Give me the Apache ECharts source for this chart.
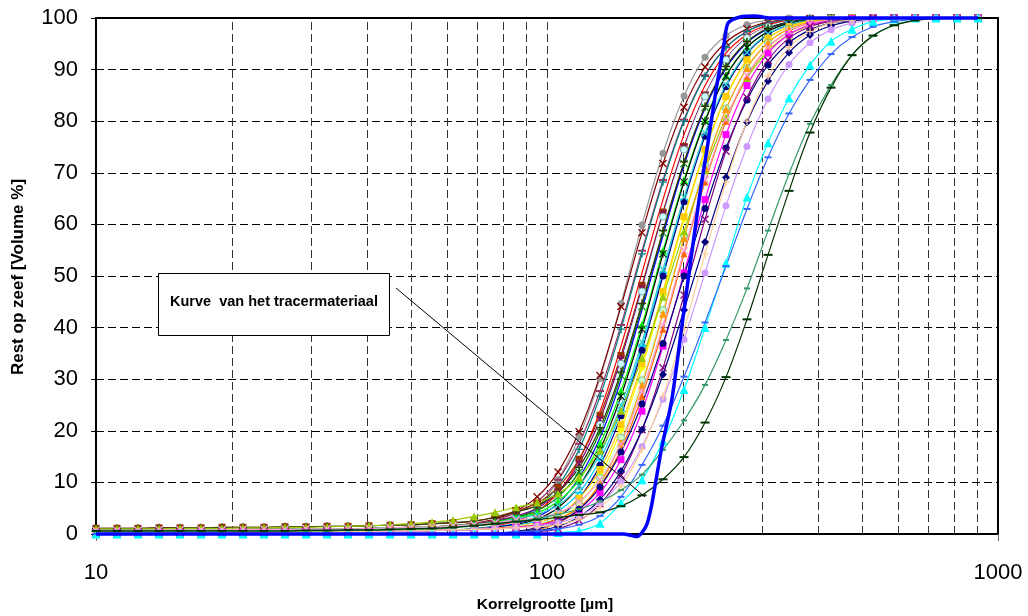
<!DOCTYPE html>
<html><head><meta charset="utf-8">
<script src="https://cdn.jsdelivr.net/npm/echarts@6/dist/echarts.min.js"></script>
<style>html,body{margin:0;padding:0;background:#fff}#c{width:1028px;height:616px}</style>
</head><body><div id="c"></div>
<script>
// Grain sizes (µm) of the measured channels
const sizes = [10.0,11.13,12.39,13.80,15.36,17.10,19.03,21.18,23.58,26.25,29.22,32.53,36.22,40.31,44.88,49.96,55.61,61.91,68.92,76.72,85.41,95.09,105.8,117.8,131.1,145.9,162.4,180.8,201.3,224.1,249.4,277.6,309.1,344.1,383.0,426.4,474.6,528.4,588.2,654.7,728.8,811.3,903.1];

// Rest op zeef [Volume %] per sample
const s01 = [0.7,0.7,0.7,0.8,0.8,0.8,0.8,0.9,0.9,0.9,1.0,1.0,1.0,1.1,1.2,1.3,1.4,1.6,1.9,2.3,3.2,5.2,10.5,18.8,30.2,44.6,59.9,73.8,84.9,92.4,96.6,98.7,99.6,100,100,100,100,100,100,100,100,100,100];
const s02 = [0.7,0.7,0.7,0.8,0.8,0.8,0.8,0.9,0.9,0.9,1.0,1.0,1.0,1.1,1.2,1.3,1.4,1.6,2.1,2.9,4.5,7.2,12.0,19.8,30.7,44.1,58.4,71.8,82.7,90.5,95.3,97.9,99.2,99.7,99.9,100,100,100,100,100,100,100,100];
const s03 = [0.7,0.7,0.7,0.8,0.8,0.8,0.8,0.9,0.9,0.9,1.0,1.0,1.0,1.1,1.2,1.3,1.4,1.6,2.0,2.7,4.1,6.3,10.5,17.5,27.7,40.5,54.9,68.6,80.3,88.9,94.3,97.4,99.0,99.6,99.9,100,100,100,100,100,100,100,100];
const s04 = [0.3,0.3,0.3,0.3,0.3,0.4,0.4,0.4,0.4,0.4,0.5,0.5,0.5,0.5,0.6,0.6,0.7,0.8,1.1,1.6,2.9,5.1,9.3,16.4,26.7,39.7,54.3,68.2,80.0,88.7,94.3,97.4,99.0,99.6,99.9,100,100,100,100,100,100,100,100];
const s05 = [0.3,0.3,0.3,0.3,0.3,0.4,0.4,0.4,0.4,0.4,0.5,0.5,0.5,0.5,0.6,0.6,0.7,0.8,0.9,1.5,2.5,4.4,8.0,14.4,23.8,36.4,50.6,64.8,77.4,86.9,93.2,96.8,98.7,99.5,99.9,100,100,100,100,100,100,100,100];
const s06 = [1.1,1.1,1.1,1.2,1.2,1.2,1.3,1.3,1.3,1.4,1.4,1.5,1.5,1.6,1.7,1.8,2.0,2.2,2.5,3.3,4.5,6.0,9.1,14.5,23.0,34.6,48.2,62.4,75.1,85.1,92.1,96.2,98.4,99.4,99.8,100,100,100,100,100,100,100,100];
const s07 = [0.7,0.7,0.7,0.8,0.8,0.8,0.8,0.9,0.9,0.9,1.0,1.0,1.0,1.1,1.2,1.3,1.4,1.6,1.8,2.5,3.5,5.0,8.1,13.6,22.2,33.9,47.6,62.0,74.9,85.0,92.0,96.2,98.3,99.4,99.8,100,100,100,100,100,100,100,100];
const s08 = [0.3,0.3,0.3,0.3,0.3,0.4,0.4,0.4,0.4,0.4,0.5,0.5,0.5,0.5,0.6,0.6,0.7,0.8,0.9,1.4,2.2,3.8,6.9,12.5,21.2,33.0,47.0,61.5,74.5,84.8,91.9,96.1,98.3,99.4,99.8,100,100,100,100,100,100,100,100];
const s09 = [0.7,0.7,0.7,0.8,0.8,0.8,0.8,0.9,0.9,0.9,1.0,1.0,1.0,1.1,1.2,1.3,1.4,1.6,1.8,2.4,3.3,4.5,7.2,12.0,19.8,30.7,44.1,58.4,71.8,82.7,90.5,95.3,97.9,99.2,99.7,99.9,100,100,100,100,100,100,100];
const s10 = [0.3,0.3,0.3,0.3,0.3,0.4,0.4,0.4,0.4,0.4,0.5,0.5,0.5,0.5,0.6,0.6,0.7,0.8,0.9,1.3,2.0,3.3,5.9,10.9,18.7,29.8,43.4,57.8,71.5,82.5,90.3,95.2,97.9,99.2,99.7,99.9,100,100,100,100,100,100,100];
const s11 = [1.1,1.1,1.1,1.2,1.2,1.2,1.3,1.3,1.3,1.4,1.4,1.5,1.5,1.6,1.7,1.8,2.0,2.2,2.5,3.2,4.3,5.5,8.1,12.9,20.6,31.4,44.7,58.8,72.1,82.9,90.6,95.4,98.0,99.2,99.7,99.9,100,100,100,100,100,100,100];
const s12 = [0.7,0.7,0.7,0.8,0.8,0.8,0.8,0.9,0.9,0.9,1.0,1.0,1.0,1.1,1.2,1.3,1.4,1.6,1.8,2.3,3.1,4.1,6.3,10.5,17.5,27.7,40.5,54.9,68.6,80.3,88.9,94.3,97.4,99.0,99.6,99.9,100,100,100,100,100,100,100];
const s13 = [0.3,0.3,0.3,0.3,0.3,0.4,0.4,0.4,0.4,0.4,0.5,0.5,0.5,0.5,0.6,0.6,0.7,0.8,0.9,1.2,1.8,2.9,5.1,9.3,16.4,26.7,39.7,54.3,68.2,80.0,88.7,94.3,97.4,99.0,99.6,99.9,100,100,100,100,100,100,100];
const s14 = [0.3,0.3,0.3,0.3,0.3,0.4,0.4,0.4,0.4,0.4,0.5,0.5,0.5,0.5,0.6,0.6,0.7,0.8,0.9,1.1,1.7,2.5,4.4,8.0,14.4,23.8,36.4,50.6,64.8,77.4,86.9,93.2,96.8,98.7,99.5,99.9,100,100,100,100,100,100,100];
const s15 = [0,0,0,0,0,0,0,0,0,0,0,0,0,0,0,0,0,0,0,0.1,0.5,1.3,3.2,6.9,13.3,22.9,35.6,50.0,64.4,77.1,86.7,93.1,96.8,98.7,99.5,99.9,100,100,100,100,100,100,100];
const s16 = [0.7,0.7,0.7,0.8,0.8,0.8,0.8,0.9,0.9,0.9,1.0,1.0,1.0,1.1,1.2,1.3,1.4,1.6,1.8,2.2,3.0,3.8,5.6,9.3,15.5,24.9,37.2,51.3,65.3,77.7,87.1,93.3,96.9,98.7,99.5,99.9,100,100,100,100,100,100,100];
const s17 = [0,0,0,0,0,0,0,0,0,0,0,0,0,0,0,0,0,0,0,0.1,0.4,1.0,2.6,5.8,11.4,20.2,32.2,46.3,61.0,74.2,84.6,91.8,96.1,98.3,99.4,99.8,100,100,100,100,100,100,100];
const s18 = [0.3,0.3,0.3,0.3,0.3,0.4,0.4,0.4,0.4,0.4,0.5,0.5,0.5,0.5,0.6,0.6,0.7,0.8,0.9,1.1,1.6,2.2,3.7,6.9,12.5,21.2,33.0,47.0,61.5,74.5,84.8,91.9,96.1,98.3,99.4,99.8,100,100,100,100,100,100,100];
const s19 = [0.3,0.3,0.3,0.3,0.3,0.4,0.4,0.4,0.4,0.4,0.5,0.5,0.5,0.5,0.6,0.6,0.7,0.8,0.9,1.1,1.5,2.0,3.3,5.9,10.9,18.7,29.8,43.4,57.8,71.5,82.5,90.3,95.2,97.9,99.2,99.7,99.9,100,100,100,100,100,100];
const s20 = [1.0,1.0,1.0,1.0,1.1,1.1,1.1,1.2,1.2,1.3,1.3,1.4,1.5,1.6,1.8,2.0,2.3,2.7,3.4,4.2,5.2,6.1,7.8,11.0,16.2,23.9,34.1,46.0,58.6,70.5,80.7,88.3,93.6,96.8,98.5,99.4,99.8,100,100,100,100,100,100];
const s21 = [0,0,0,0,0,0,0,0,0,0,0,0,0,0,0,0,0,0,0,0.1,0.3,0.8,2.1,4.8,9.8,17.7,28.9,42.7,57.3,71.1,82.3,90.3,95.2,97.9,99.2,99.7,99.9,100,100,100,100,100,100];
const s22 = [0.3,0.3,0.3,0.3,0.3,0.4,0.4,0.4,0.4,0.4,0.5,0.5,0.5,0.5,0.6,0.6,0.7,0.8,0.9,1.1,1.4,1.8,2.9,5.1,9.3,16.4,26.7,39.7,54.3,68.2,80.0,88.7,94.3,97.4,99.0,99.6,99.9,100,100,100,100,100,100];
const s23 = [0.3,0.3,0.3,0.3,0.3,0.4,0.4,0.4,0.4,0.4,0.5,0.5,0.5,0.5,0.6,0.6,0.7,0.8,0.9,1.0,1.3,1.7,2.5,4.4,8.0,14.4,23.8,36.4,50.6,64.8,77.4,86.9,93.2,96.8,98.7,99.5,99.9,100,100,100,100,100,100];
const s24 = [0,0,0,0,0,0,0,0,0,0,0,0,0,0,0,0,0,0,0,0,0.4,1.0,2.3,4.8,9.1,15.9,25.2,36.9,50.0,63.1,74.8,84.1,90.9,95.2,97.7,99.0,99.6,99.9,100,100,100,100,100];
const s25 = [0.7,0.7,0.7,0.8,0.8,0.8,0.8,0.9,0.9,0.9,1.0,1.0,1.0,1.1,1.2,1.3,1.4,1.6,1.8,2.2,2.7,3.1,4.1,6.3,10.5,17.5,27.7,40.5,54.9,68.6,80.3,88.9,94.3,97.4,99.0,99.6,99.9,100,100,100,100,100,100];
const s26 = [0,0,0,0,0,0,0,0,0,0,0,0,0,0,0,0,0,0,0,0,0.1,0.4,1.0,2.6,5.8,11.4,20.2,32.2,46.3,61.0,74.2,84.6,91.8,96.1,98.3,99.4,99.8,100,100,100,100,100,100];
const s27 = [0,0,0,0,0,0,0,0,0,0,0,0,0,0,0,0,0,0,0,0,0.2,0.6,1.5,3.3,6.7,12.2,20.2,30.9,43.4,56.6,69.1,79.8,87.8,93.3,96.7,98.5,99.4,99.8,100,100,100,100,100];
const s28 = [0.3,0.3,0.3,0.3,0.3,0.4,0.4,0.4,0.4,0.4,0.5,0.5,0.5,0.5,0.6,0.6,0.7,0.8,0.9,1.0,1.2,1.6,2.2,3.5,5.9,10.2,16.9,26.1,37.7,50.6,63.6,75.1,84.3,91.0,95.2,97.7,99.0,99.6,99.9,100,100,100,100];
const s29 = [0.3,0.3,0.3,0.3,0.3,0.4,0.4,0.4,0.4,0.4,0.5,0.5,0.5,0.5,0.6,0.6,0.7,0.8,0.9,1.0,1.2,1.4,1.8,2.9,5.1,9.3,16.4,26.7,39.7,54.3,68.2,80.0,88.7,94.3,97.4,99.0,99.6,99.9,100,100,100,100,100];
const s30 = [0,0,0,0,0,0,0,0,0,0,0,0,0,0,0,0,0,0,0,0,0,0,0.3,0.6,2.1,6.0,10.5,18.0,28.0,40.0,52.5,65.3,75.8,84.5,90.9,95.5,97.8,99.3,99.8,100,100,100,100];
const s31 = [0,0,0,0,0,0,0,0,0,0,0,0,0,0,0,0,0,0,0,0.2,0.4,0.6,1.0,1.8,3.5,7.2,13.4,21.0,30.5,41.0,51.9,63.0,73.0,81.5,88.0,93.0,96.3,98.3,99.3,99.8,100,100,100];
const s32 = [0.5,0.5,0.5,0.5,0.5,0.5,0.5,0.5,0.5,0.5,0.6,0.6,0.7,0.7,0.8,0.9,1.0,1.2,1.5,1.9,2.4,3.0,3.8,4.8,6.3,8.5,11.5,16.3,22.0,28.9,37.6,47.6,58.8,69.8,79.5,87.0,92.8,96.5,98.6,99.6,100,100,100];
const s33 = [0.6,0.6,0.6,0.6,0.6,0.6,0.6,0.6,0.6,0.6,0.7,0.7,0.8,0.8,0.9,1.0,1.1,1.3,1.6,2.0,2.4,2.8,3.2,3.7,4.2,5.4,7.5,10.6,14.9,21.6,30.4,41.6,54.1,66.5,77.8,86.5,92.8,96.6,98.6,99.5,99.9,100,100];

// Tracer material curve
const tracerSizes = [10,50,100,130,147.4,158.3,165.8,170.1,174.5,179.9,189.1,198.9,217.3,227.5,237.0,241.9,246.9,252.0,268.0,289.2,312.2,400,903];
const tracerValues = [0,0,0,0,0,-0.5,1.5,5.0,10.5,17.0,26.0,40.0,64.7,75.8,86.0,90.5,95.0,99.0,100.2,100.4,100,100,100];

// Minor/major vertical grid lines of the log axis
const xGridValues = [20,30,40,50,60,70,80,90,100,200,300,400,500,600,700,800,900];

const xTitle = 'Korrelgrootte [µm]';
const yTitle = 'Rest op zeef [Volume %]';
const noteText = 'Kurve  van het tracermateriaal';
const notePoint = [164.9, 7.2];

const curves = [s01,s02,s03,s04,s05,s06,s07,s08,s09,s10,s11,s12,s13,s14,s15,s16,s17,s18,s19,s20,s21,s22,s23,s24,s25,s26,s27,s28,s29,s30,s31,s32,s33];
const styles = [
 ['#969696','circle',7],['#800000','x',8],['#993366','dash',8],['#008080','plus',8],
 ['#FF0000','none',0],['#993300','rect',7],['#800080','star',8],['#CCFFFF','circle',7,'#5f9ea0'],
 ['#008000','star',8],['#0000FF','none',0],['#333300','plus',8],['#00FF00','triangle',8],
 ['#000000','star',8],['#00CCFF','dash',8],['#000080','circle',7],['#33CCCC','x',8],
 ['#FFFF00','diamond',8],['#FFCC00','rect',7],['#CCFFCC','circle',7,'#66aa66'],['#99CC00','triangle',8],
 ['#FF9900','triangle',8],['#FF6600','triangle',7],['#FF00FF','rect',7],['#000080','circle',7],
 ['#FF99CC','x',8],['#800080','x',8],['#000080','diamond',8],['#CC99FF','circle',7],
 ['#FFCC99','plus',8],['#00FFFF','triangle',9],['#3366FF','dash',7],['#339966','dash',6],['#003300','dash',9]
];
const SYM = {
 x: 'path://M0,1.2L1.2,0L5,3.8L8.8,0L10,1.2L6.2,5L10,8.8L8.8,10L5,6.2L1.2,10L0,8.8L3.8,5Z',
 plus: 'path://M4.2,0H5.8V4.2H10V5.8H5.8V10H4.2V5.8H0V4.2H4.2Z',
 star: 'path://M4.4,0H5.6V10H4.4Z M0,0.9L0.9,0L10,9.1L9.1,10Z M9.1,0L10,0.9L0.9,10L0,9.1Z',
 dash: 'path://M0,0H10V10H0Z'
};

const FONT = '"Liberation Sans", Arial, sans-serif';
const chart = echarts.init(document.getElementById('c'), null, {renderer: 'canvas'});

const series = [];
series.push({
  type: 'line', data: [], silent: true, z: 1,
  markLine: {
    silent: true, symbol: 'none', z: 1, animation: false,
    label: {show: false},
    lineStyle: {type: [8, 4], color: '#333', width: 1},
    data: xGridValues.map(v => ({xAxis: v}))
  }
});
curves.forEach((vals, k) => {
  const st = styles[k];
  const sym = st[1];
  let symbol = sym, size = st[2];
  if (SYM[sym]) symbol = SYM[sym];
  if (sym === 'dash') size = [st[2], 2];
  series.push({
    type: 'line',
    data: sizes.map((x, i) => [x, vals[i]]),
    smooth: 0.35,
    symbol: symbol, symbolSize: size,
    showSymbol: sym !== 'none',
    lineStyle: {width: 1.2, color: st[0]},
    itemStyle: {color: st[0], borderColor: st[3] || st[0], borderWidth: st[3] ? 0.8 : 0},
    z: 2
  });
});
series.push({
  type: 'line',
  data: tracerSizes.map((x, i) => [x, tracerValues[i]]),
  smooth: 0.25, showSymbol: false, clip: false,
  lineStyle: {width: 3.5, color: '#0000FF'},
  itemStyle: {color: '#0000FF'},
  z: 3
});

chart.setOption({
  animation: false,
  backgroundColor: '#fff',
  grid: {left: 96, right: 30, top: 18, bottom: 82, show: true, borderColor: '#000', borderWidth: 2, backgroundColor: 'transparent'},
  xAxis: {
    type: 'log', logBase: 10, min: 10, max: 1000,
    axisLine: {show: true, onZero: false, lineStyle: {color: '#000', width: 2}},
    axisTick: {show: true, length: 7, lineStyle: {color: '#666', width: 1}},
    axisLabel: {color: '#000', fontSize: 22, fontFamily: FONT, margin: 28, formatter: v => String(Math.round(v))},
    splitLine: {show: false},
    minorTick: {show: false}, minorSplitLine: {show: false}
  },
  yAxis: [{
    type: 'value', min: 0, max: 100, interval: 10,
    axisLine: {show: true, lineStyle: {color: '#000', width: 2}},
    axisTick: {show: true, length: 5, lineStyle: {color: '#000', width: 1}},
    axisLabel: {color: '#000', fontSize: 22, fontFamily: FONT, margin: 18},
    splitLine: {show: true, lineStyle: {type: [8, 4], color: '#000', width: 1}}
  }, {
    type: 'value', min: 0, max: 100, interval: 10, position: 'left',
    axisLine: {show: false}, axisLabel: {show: false}, splitLine: {show: false},
    axisTick: {show: true, inside: true, length: 5, lineStyle: {color: '#000', width: 1}}
  }],
  series: series
});

const endPt = chart.convertToPixel({gridIndex: 0}, notePoint);
chart.setOption({
  graphic: [
    {type: 'text', style: {text: xTitle, font: 'bold 15.5px ' + FONT, fill: '#000', align: 'center', verticalAlign: 'middle'}, x: 545, y: 605, z: 100},
    {type: 'text', style: {text: yTitle, font: 'bold 17px ' + FONT, fill: '#000', align: 'center', verticalAlign: 'middle'}, x: 18, y: 277, rotation: Math.PI / 2, z: 100},
    {type: 'line', shape: {x1: 396, y1: 288, x2: endPt[0], y2: endPt[1]}, style: {stroke: '#000', lineWidth: 1}, z: 100},
    {type: 'rect', shape: {x: 158.5, y: 273.5, width: 231, height: 62}, style: {fill: '#fff', stroke: '#000', lineWidth: 1}, z: 100},
    {type: 'text', style: {text: noteText, font: 'bold 14.5px ' + FONT, fill: '#000', align: 'center', verticalAlign: 'middle'}, x: 274, y: 302, z: 101}
  ]
});
</script></body></html>
